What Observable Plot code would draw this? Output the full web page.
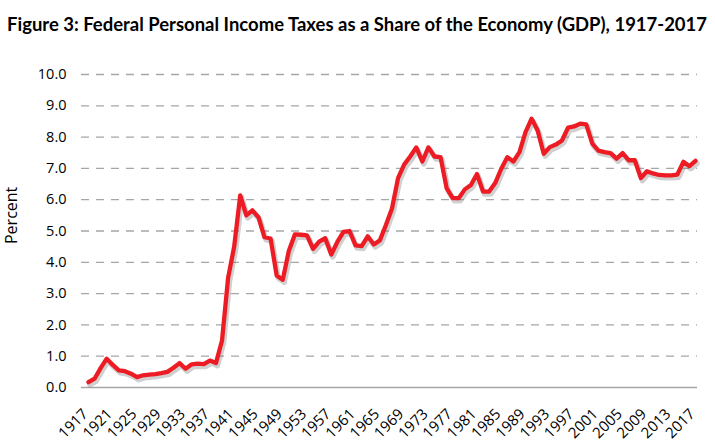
<!DOCTYPE html>
<html>
<head>
<meta charset="utf-8">
<script src="https://cdn.jsdelivr.net/npm/d3@7"></script>
<script src="https://cdn.jsdelivr.net/npm/@observablehq/plot@0.6"></script>
<style>
  body { margin: 0; background: #fff; }
  #title { height: 44px; width: 715px; }
  #chart svg { display: block; }
</style>
</head>
<body>
<div id="title"></div>
<div id="chart"></div>
<script>
const titleText = "Figure 3: Federal Personal Income Taxes as a Share of the Economy (GDP), 1917-2017";
const yLabel = "Percent";

const years = d3.range(1917, 2018);
const values = [
  0.17, 0.28, 0.62, 0.92, 0.72, 0.55, 0.52, 0.44, 0.33, 0.39,   // 1917-1926
  0.41, 0.43, 0.46, 0.50, 0.63, 0.78, 0.60, 0.74, 0.76, 0.75,   // 1927-1936
  0.86, 0.78, 1.50, 3.50, 4.50, 6.14, 5.50, 5.66, 5.44, 4.80,   // 1937-1946
  4.76, 3.58, 3.44, 4.36, 4.89, 4.88, 4.86, 4.43, 4.66, 4.77,   // 1947-1956
  4.25, 4.65, 4.97, 5.00, 4.54, 4.52, 4.83, 4.57, 4.70, 5.19,   // 1957-1966
  5.72, 6.69, 7.12, 7.38, 7.67, 7.22, 7.67, 7.38, 7.36, 6.37,   // 1967-1976
  6.05, 6.05, 6.33, 6.47, 6.82, 6.26, 6.26, 6.53, 6.99, 7.36,   // 1977-1986
  7.22, 7.52, 8.16, 8.59, 8.21, 7.47, 7.68, 7.76, 7.89, 8.30,   // 1987-1996
  8.34, 8.43, 8.41, 7.79, 7.57, 7.52, 7.49, 7.31, 7.49, 7.26,   // 1997-2006
  7.26, 6.69, 6.91, 6.84, 6.79, 6.78, 6.78, 6.80, 7.21, 7.07,   // 2007-2016
  7.24                                                          // 2017
];
const xTickYears = [1917, 1921, 1925, 1929, 1933, 1937, 1941, 1945, 1949, 1953, 1957, 1961, 1965,
                    1969, 1973, 1977, 1981, 1985, 1989, 1993, 1997, 2001, 2005, 2009, 2013, 2017];
const yTicks = [0, 1, 2, 3, 4, 5, 6, 7, 8, 9, 10];
const yGridTicks = [1, 2, 3, 4, 5, 6, 7, 8, 9, 10];

// Title (real text) above the plot
const ts = d3.select("#title").append("svg").attr("width", 715).attr("height", 44);
ts.append("text")
  .attr("x", 357).attr("y", 31)
  .attr("text-anchor", "middle")
  .attr("textLength", 700).attr("lengthAdjust", "spacingAndGlyphs")
  .attr("font-family", "Lato, 'Open Sans', sans-serif")
  .attr("font-weight", "bold").attr("font-size", 18.5).attr("fill", "#000")
  .text(titleText);

const data = years.map((year, i) => ({year, value: values[i]}));

const plot = Plot.plot({
  width: 715,
  height: 397,
  marginTop: 30,
  marginBottom: 54,
  marginLeft: 81,
  marginRight: 18,
  style: {fontFamily: "'Open Sans', sans-serif", fontSize: "14px", color: "#000", background: "#fff"},
  x: {domain: [1915.85, 2017.33]},
  y: {domain: [0, 10]},
  marks: [
    Plot.gridY(yGridTicks, {stroke: "#a6a6a6", strokeOpacity: 1, strokeWidth: 1.3, strokeDasharray: "8,7"}),
    Plot.ruleY([0], {stroke: "#a6a6a6", strokeWidth: 1.3}),
    Plot.axisY(yTicks, {tickSize: 0, tickPadding: 15, tickFormat: d => d.toFixed(1), label: null, fontSize: 14.5, fill: "#000"}),
    Plot.axisX(xTickYears, {tickSize: 0, tickRotate: -45, tickPadding: 24, dx: -3, tickFormat: d => String(d), label: null, fontSize: 15, fill: "#000"}),
    Plot.line(data, {x: "year", y: "value", stroke: "#777", strokeOpacity: 0.35, strokeWidth: 5.5, dx: 1.5, dy: 2.5}),
    Plot.line(data, {x: "year", y: "value", stroke: "#ed1c24", strokeWidth: 4.3, strokeLinejoin: "round"}),
    Plot.text([yLabel], {text: d => d, frameAnchor: "left", rotate: -90, dx: -70, dy: 13, fontSize: 16, fill: "#000"})
  ]
});
document.getElementById("chart").appendChild(plot);
</script>
</body>
</html>
